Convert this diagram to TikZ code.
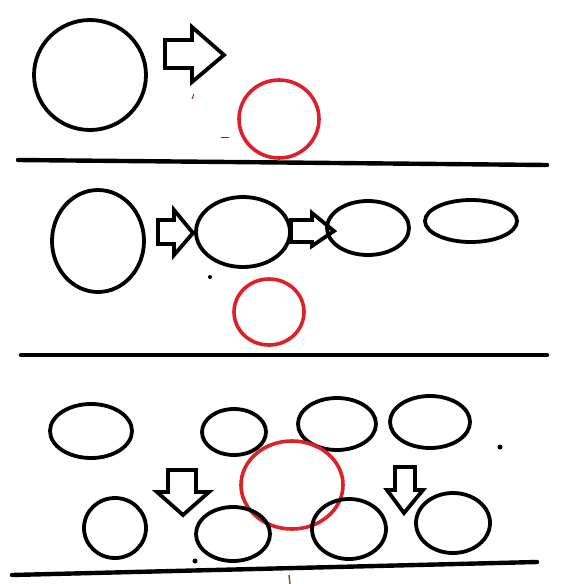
\documentclass[tikz,border=0pt]{standalone}
\definecolor{ringred}{RGB}{222,32,40}
\tikzset{
  blk/.style={draw=black, line width=3.8pt},
  redring/.style={draw=ringred, line width=3.6pt},
  ground/.style={draw=black, line width=4.4pt, line cap=round},
  dot/.style={fill=black}
}
\begin{document}
\begin{tikzpicture}[x=1pt, y=-1pt, line join=miter]
\useasboundingbox (0,0) rectangle (566,584);

% Panel 1
\draw[blk] (90,75) ellipse (56 and 55);
\draw[blk] (165,40) -- (192,40) -- (192,27) -- (224,55) -- (192,82) -- (192,68) -- (165,68) -- cycle;
\draw[redring] (279,119) ellipse (40 and 39);
\draw[ringred!70!black, line width=1pt] (194,94) -- (192,99);
\draw[ringred!70!black, line width=1pt] (221,137) -- (229,137);
\draw[ground] (18,160) -- (547,165);

% Panel 2
\draw[blk] (98,241) ellipse (46 and 51);
\draw[blk] (158,220) -- (174,220) -- (174,210) -- (193,233) -- (174,255) -- (174,244) -- (158,244) -- cycle;
\draw[blk] (243,232) ellipse (47 and 35);
\draw[blk] (291,220) -- (312,220) -- (312,213) -- (334,231) -- (312,246) -- (312,242) -- (291,242) -- cycle;
\draw[blk] (368,228) ellipse (41 and 27);
\draw[blk] (471,221) ellipse (46 and 21);
\draw[redring] (269,312) ellipse (35 and 33);
\fill[dot] (210,277) circle (2);
\draw[ground] (21,355) -- (547,355);

% Panel 3
\draw[blk] (91,431) ellipse (41 and 27);
\draw[blk] (234,432) ellipse (32 and 23);
\draw[blk] (337,424) ellipse (39 and 26);
\draw[blk] (430,422) ellipse (40 and 26);
\fill[dot] (500,447) circle (2.5);
\draw[redring] (292,485) ellipse (51 and 44);
\draw[blk] (168,470) -- (196,470) -- (196,492) -- (209,492) -- (183,515) -- (157,492) -- (168,492) -- cycle;
\draw[blk] (395,467) -- (415,467) -- (415,490) -- (423,490) -- (404,513) -- (387,490) -- (395,490) -- cycle;
\draw[blk] (115,528) ellipse (31 and 30);
\draw[blk] (233,534) ellipse (37 and 27);
\draw[blk] (349,529) ellipse (37 and 30);
\draw[blk] (453,523) ellipse (37 and 30);
\fill[dot] (195,561) circle (2.5);
\draw[ground] (12,575) -- (537,562);
\draw[brown!70!black, line width=1.5pt] (290,584) -- (289,575);

\end{tikzpicture}
\end{document}
